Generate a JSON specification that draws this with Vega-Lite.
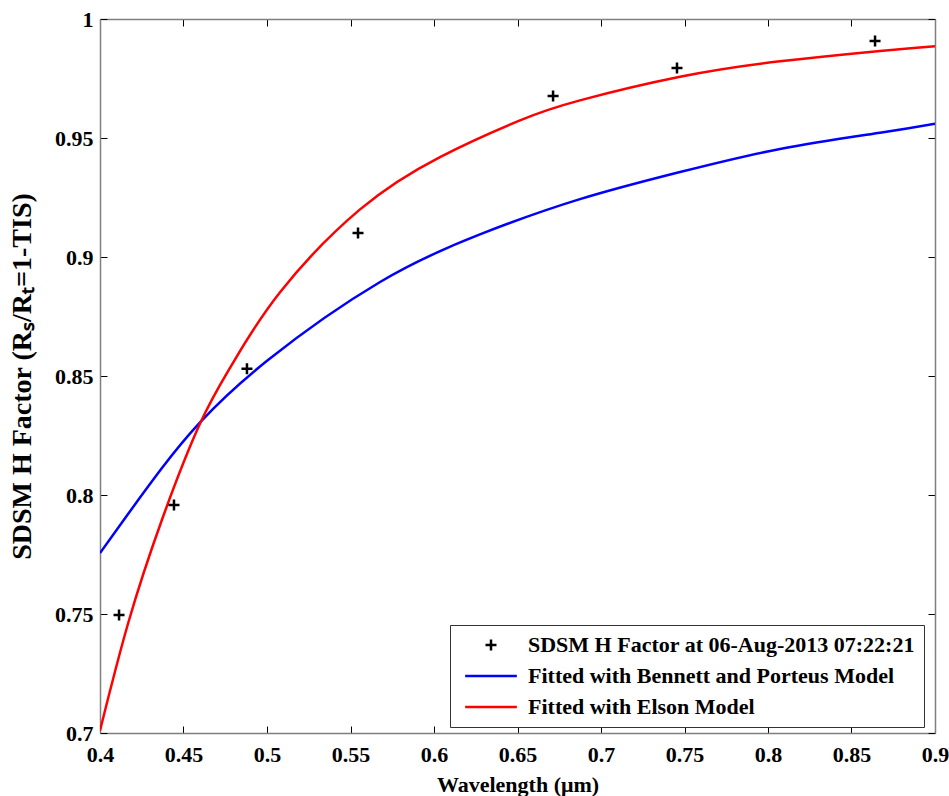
{
  "$schema": "https://vega.github.io/schema/vega-lite/v6.json",
  "width": 835,
  "height": 714,
  "autosize": "none",
  "padding": {"left": 100, "top": 19, "right": 14, "bottom": 63},
  "background": "white",
  "config": {
    "font": "Liberation Serif",
    "view": {"stroke": null},
    "axis": {
      "grid": false,
      "domainColor": "#7f7f7f",
      "domainWidth": 1.5,
      "tickColor": "#000000",
      "tickWidth": 1,
      "tickSize": -7,
      "labelFlush": false,
      "labelOverlap": false,
      "labelFont": "Liberation Serif",
      "labelFontSize": 22,
      "labelFontWeight": "bold",
      "labelColor": "#000000",
      "titleFont": "Liberation Serif",
      "titleFontSize": 22,
      "titleFontWeight": "bold",
      "titleColor": "#000000"
    },
    "legend": {
      "orient": "none",
      "legendX": 350,
      "legendY": 606,
      "fillColor": "white",
      "strokeColor": "#333333",
      "padding": 9,
      "labelFont": "Liberation Serif",
      "labelFontSize": 22,
      "labelFontWeight": "bold",
      "labelColor": "#000000",
      "symbolStrokeWidth": 2.5,
      "symbolSize": 121,
      "symbolOffset": 21,
      "labelOffset": 26,
      "rowPadding": 9,
      "labelLimit": 600
    }
  },
  "datasets": {
    "points": [
      {"wavelength": 0.4114, "h": 0.7496, "series": "SDSM H Factor at 06-Aug-2013 07:22:21"},
      {"wavelength": 0.4443, "h": 0.7958, "series": "SDSM H Factor at 06-Aug-2013 07:22:21"},
      {"wavelength": 0.4880, "h": 0.8530, "series": "SDSM H Factor at 06-Aug-2013 07:22:21"},
      {"wavelength": 0.5545, "h": 0.9101, "series": "SDSM H Factor at 06-Aug-2013 07:22:21"},
      {"wavelength": 0.6713, "h": 0.9676, "series": "SDSM H Factor at 06-Aug-2013 07:22:21"},
      {"wavelength": 0.7455, "h": 0.9794, "series": "SDSM H Factor at 06-Aug-2013 07:22:21"},
      {"wavelength": 0.8641, "h": 0.9908, "series": "SDSM H Factor at 06-Aug-2013 07:22:21"}
    ],
    "curves": [
      {"wavelength": 0.400, "h": 0.7756, "series": "Fitted with Bennett and Porteus Model"},
      {"wavelength": 0.4168, "h": 0.7920, "series": "Fitted with Bennett and Porteus Model"},
      {"wavelength": 0.4371, "h": 0.8113, "series": "Fitted with Bennett and Porteus Model"},
      {"wavelength": 0.4599, "h": 0.8305, "series": "Fitted with Bennett and Porteus Model"},
      {"wavelength": 0.5006, "h": 0.8567, "series": "Fitted with Bennett and Porteus Model"},
      {"wavelength": 0.5677, "h": 0.8895, "series": "Fitted with Bennett and Porteus Model"},
      {"wavelength": 0.6275, "h": 0.9095, "series": "Fitted with Bennett and Porteus Model"},
      {"wavelength": 0.6874, "h": 0.9243, "series": "Fitted with Bennett and Porteus Model"},
      {"wavelength": 0.7473, "h": 0.9357, "series": "Fitted with Bennett and Porteus Model"},
      {"wavelength": 0.8072, "h": 0.9454, "series": "Fitted with Bennett and Porteus Model"},
      {"wavelength": 0.8671, "h": 0.9522, "series": "Fitted with Bennett and Porteus Model"},
      {"wavelength": 0.900, "h": 0.9560, "series": "Fitted with Bennett and Porteus Model"},
      {"wavelength": 0.400, "h": 0.7010, "series": "Fitted with Elson Model"},
      {"wavelength": 0.4168, "h": 0.7460, "series": "Fitted with Elson Model"},
      {"wavelength": 0.4371, "h": 0.7896, "series": "Fitted with Elson Model"},
      {"wavelength": 0.4599, "h": 0.8300, "series": "Fitted with Elson Model"},
      {"wavelength": 0.4790, "h": 0.8548, "series": "Fitted with Elson Model"},
      {"wavelength": 0.5078, "h": 0.8852, "series": "Fitted with Elson Model"},
      {"wavelength": 0.5557, "h": 0.9200, "series": "Fitted with Elson Model"},
      {"wavelength": 0.6036, "h": 0.9420, "series": "Fitted with Elson Model"},
      {"wavelength": 0.6515, "h": 0.9574, "series": "Fitted with Elson Model"},
      {"wavelength": 0.6874, "h": 0.9658, "series": "Fitted with Elson Model"},
      {"wavelength": 0.7473, "h": 0.9757, "series": "Fitted with Elson Model"},
      {"wavelength": 0.8072, "h": 0.9822, "series": "Fitted with Elson Model"},
      {"wavelength": 0.8671, "h": 0.9866, "series": "Fitted with Elson Model"},
      {"wavelength": 0.900, "h": 0.9886, "series": "Fitted with Elson Model"}
    ]
  },
  "layer": [
    {
      "data": {"name": "curves"},
      "mark": {"type": "line", "strokeWidth": 2.5, "interpolate": "natural", "clip": true},
      "encoding": {
        "x": {
          "field": "wavelength", "type": "quantitative",
          "scale": {"domain": [0.4, 0.9], "nice": false, "zero": false},
          "axis": {
            "orient": "bottom",
            "values": [0.4, 0.45, 0.5, 0.55, 0.6, 0.65, 0.7, 0.75, 0.8, 0.85, 0.9],
            "format": ".2~f",
            "labelPadding": 18,
            "title": "Wavelength (μm)",
            "titlePadding": 9
          }
        },
        "y": {
          "field": "h", "type": "quantitative",
          "scale": {"domain": [0.7, 1.0], "nice": false, "zero": false},
          "axis": {
            "orient": "left",
            "values": [0.7, 0.75, 0.8, 0.85, 0.9, 0.95, 1.0],
            "format": ".2~f",
            "labelPadding": 14,
            "title": "SDSM H Factor (Rₛ/Rₜ=1-TIS)",
            "titleFontSize": 28,
            "titlePadding": 18
          }
        },
        "color": {
          "field": "series", "type": "nominal",
          "scale": {
            "domain": ["SDSM H Factor at 06-Aug-2013 07:22:21", "Fitted with Bennett and Porteus Model", "Fitted with Elson Model"],
            "range": ["#000000", "#0000ff", "#ff0000"]
          },
          "legend": {"title": null}
        }
      }
    },
    {
      "data": {"name": "points"},
      "mark": {"type": "point", "filled": false, "strokeWidth": 2.5, "size": 121, "opacity": 1},
      "encoding": {
        "x": {
          "field": "wavelength", "type": "quantitative",
          "scale": {"domain": [0.4, 0.9], "nice": false, "zero": false},
          "axis": {
            "orient": "top",
            "values": [0.4, 0.45, 0.5, 0.55, 0.6, 0.65, 0.7, 0.75, 0.8, 0.85, 0.9],
            "labels": false,
            "title": null
          }
        },
        "y": {
          "field": "h", "type": "quantitative",
          "scale": {"domain": [0.7, 1.0], "nice": false, "zero": false},
          "axis": {
            "orient": "right",
            "values": [0.7, 0.75, 0.8, 0.85, 0.9, 0.95, 1.0],
            "labels": false,
            "title": null
          }
        },
        "color": {
          "field": "series", "type": "nominal",
          "scale": {
            "domain": ["SDSM H Factor at 06-Aug-2013 07:22:21", "Fitted with Bennett and Porteus Model", "Fitted with Elson Model"],
            "range": ["#000000", "#0000ff", "#ff0000"]
          },
          "legend": {"title": null}
        },
        "shape": {
          "field": "series", "type": "nominal",
          "scale": {
            "domain": ["SDSM H Factor at 06-Aug-2013 07:22:21", "Fitted with Bennett and Porteus Model", "Fitted with Elson Model"],
            "range": ["M-1,0L1,0M0,-1L0,1", "M-4.7,0L4.7,0", "M-4.7,0L4.7,0"]
          },
          "legend": {"title": null}
        }
      }
    }
  ],
  "resolve": {"axis": {"x": "independent", "y": "independent"}}
}
